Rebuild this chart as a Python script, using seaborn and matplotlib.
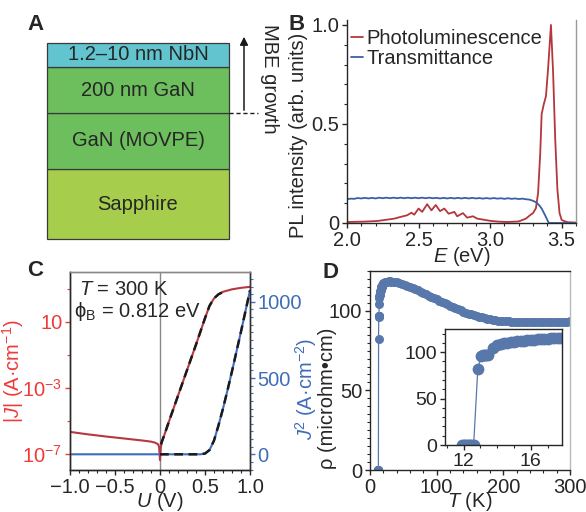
import numpy as np
import pandas as pd
import matplotlib
matplotlib.use("Agg")
import matplotlib.pyplot as plt
import seaborn as sns
from matplotlib.ticker import FixedLocator, MultipleLocator, NullFormatter, FixedFormatter

# ---------------- data ----------------
# Panel A: layer stack (bottom to top)
layer_names = ["Sapphire", "GaN (MOVPE)", "200 nm GaN", "1.2\u201310 nm NbN"]
layer_thick = [70, 56, 46, 24]
layer_colors = ["#A6CE4C", "#6DBE5C", "#6DBE5C", "#62C4CF"]

# Panel B: photoluminescence & transmittance
pl_E = [2.00, 2.12, 2.21, 2.28, 2.33, 2.37, 2.42, 2.45, 2.47, 2.50, 2.525, 2.56, 2.59, 2.62,
        2.65, 2.68, 2.71, 2.75, 2.77, 2.81, 2.84, 2.88, 2.91, 2.96, 3.00, 3.06, 3.12, 3.20,
        3.25, 3.28, 3.30, 3.32, 3.335, 3.35, 3.36, 3.375, 3.39, 3.405, 3.425, 3.44, 3.455,
        3.47, 3.485, 3.50, 3.54, 3.60]
pl_I = [0.005, 0.007, 0.010, 0.017, 0.022, 0.030, 0.039, 0.052, 0.042, 0.073, 0.056, 0.095,
        0.064, 0.091, 0.060, 0.073, 0.047, 0.056, 0.034, 0.050, 0.027, 0.034, 0.022, 0.016,
        0.011, 0.007, 0.005, 0.008, 0.022, 0.040, 0.050, 0.075, 0.150, 0.350, 0.550, 0.600,
        0.640, 0.780, 1.000, 0.760, 0.420, 0.170, 0.050, 0.015, 0.004, 0.002]
tr_E = [2.000, 2.025, 2.050, 2.075, 2.100, 2.125, 2.150, 2.175, 2.200, 2.225,
        2.250, 2.275, 2.300, 2.325, 2.350, 2.375, 2.400, 2.425, 2.450, 2.475,
        2.500, 2.525, 2.550, 2.575, 2.600, 2.625, 2.650, 2.675, 2.700, 2.725,
        2.750, 2.775, 2.800, 2.825, 2.850, 2.875, 2.900, 2.925, 2.950, 2.975,
        3.000, 3.025, 3.050, 3.075, 3.100, 3.125, 3.150, 3.175, 3.200, 3.225,
        3.250, 3.275, 3.300, 3.320, 3.340, 3.360, 3.380, 3.400, 3.410, 3.450,
        3.500, 3.600]
tr_T = [0.120, 0.123, 0.122, 0.126, 0.124, 0.127, 0.124, 0.127, 0.124, 0.128,
        0.125, 0.128, 0.125, 0.128, 0.125, 0.128, 0.125, 0.128, 0.125, 0.128,
        0.125, 0.128, 0.125, 0.128, 0.125, 0.127, 0.124, 0.127, 0.124, 0.127,
        0.124, 0.127, 0.124, 0.127, 0.124, 0.127, 0.124, 0.126, 0.123, 0.126,
        0.123, 0.126, 0.123, 0.125, 0.122, 0.125, 0.122, 0.124, 0.121, 0.123,
        0.120, 0.118, 0.112, 0.105, 0.092, 0.073, 0.045, 0.015, 0.000, 0.000,
        0.000, 0.000]

# Panel C: current-voltage
c_U = [-1.0, -0.8, -0.6, -0.4, -0.2, -0.1, -0.05, -0.02, -0.01, 0.0, 0.01, 0.02, 0.05,
       0.1, 0.2, 0.3, 0.4, 0.45, 0.5, 0.55, 0.6, 0.65, 0.7, 0.8, 0.9, 1.0]
c_log10_J = [-5.69, -5.84, -5.97, -6.09, -6.21, -6.28, -6.35, -6.45, -6.60, -7.40, -6.60,
             -6.30, -5.85, -5.05, -3.50, -1.95, -0.40, 0.40, 1.20, 1.95, 2.40, 2.65, 2.80,
             2.95, 3.04, 3.10]
c_fitJ_U = [0.01, 0.05, 0.1, 0.2, 0.3, 0.4, 0.45, 0.5, 0.55, 0.6, 0.65, 0.72]
c_fit_log10_J = [-6.45, -5.85, -5.05, -3.50, -1.95, -0.40, 0.40, 1.20, 1.95, 2.40, 2.65, 2.84]
c_U2 = [-1.0, 0.0, 0.40, 0.45, 0.50, 0.55, 0.60, 0.65, 0.70, 0.75, 0.80, 0.85, 0.90, 0.95, 1.0]
c_J2 = [0, 0, 0, 0, 5, 28, 90, 190, 300, 420, 545, 675, 805, 940, 1075]
c_fitJ2_U = [0.0, 0.40, 0.45, 0.50, 0.55, 0.60, 0.65, 0.70, 0.75, 0.80, 0.85, 0.90, 0.95, 1.0]
c_fitJ2 = [0, 0, 0, 5, 28, 90, 190, 300, 420, 545, 675, 805, 940, 1075]
c_ytick_vals = [1e1, 1e-3, 1e-7]
c_ytick_labels = ["10", "10$^{-3}$", "10$^{-7}$"]

# Panel D: resistivity vs temperature
d_T = [11.9, 12.0, 12.1, 12.2, 12.3, 12.4, 12.5, 12.6, 12.85, 13.05, 13.15, 13.25, 13.35, 13.45,
       13.75, 14.0, 14.2, 14.4, 14.6, 14.8, 15.0, 15.2, 15.4, 15.6, 15.8, 16.0, 16.2, 16.4,
       16.6, 16.8, 17.0, 17.2, 17.4, 17.6, 17.8, 18.0, 18.5, 19, 20, 21, 22, 24, 26, 28, 30,
       32, 36, 40, 44, 48, 52, 56, 60, 64, 68, 72, 76, 80, 84, 88, 92, 96, 100, 104, 108,
       112, 116, 120, 124, 128, 132, 136, 140, 144, 148, 152, 156, 160, 164, 168, 172, 176,
       180, 184, 188, 192, 196, 200, 204, 208, 212, 216, 220, 224, 228, 232, 236, 240, 244,
       248, 252, 256, 260, 264, 268, 272, 276, 280, 284, 288, 292, 296, 300]
d_rho = [0, 0, 0, 0, 0, 0, 0, 0, 82, 96, 96.5, 96.5, 96.5, 97, 104, 108.0, 109.0, 109.7, 110.3,
         110.8, 111.3, 111.7, 112.1, 112.5, 112.9, 113.2, 113.5, 113.8, 114.1, 114.4, 114.7,
         114.9, 115.2, 115.4, 115.6, 115.8, 116.3, 116.7, 117.2, 117.6, 117.9, 118.2, 118.4,
         118.5, 118.5, 118.4, 118.2, 117.9, 117.5, 117.0, 116.4, 115.8, 115.1, 114.4, 113.6,
         112.8, 112.0, 111.2, 110.4, 109.6, 108.8, 108.0, 107.2, 106.4, 105.6, 104.8, 104.0,
         103.2, 102.4, 101.6, 100.9, 100.2, 99.5, 98.9, 98.3, 97.7, 97.2, 96.7, 96.2, 95.8,
         95.4, 95.0, 94.7, 94.4, 94.1, 93.9, 93.7, 93.5, 93.4, 93.3, 93.2, 93.1, 93.0, 93.0,
         93.0, 93.0, 93.0, 93.0, 93.0, 93.0, 93.0, 93.0, 93.0, 93.0, 93.0, 93.1, 93.1, 93.1,
         93.1, 93.2, 93.2, 93.2, 93.3]

# ---------------- style ----------------
sns.set_theme(style="ticks")
plt.rcParams["font.family"] = ["Liberation Sans", "DejaVu Sans"]
plt.rcParams.update({
    "font.size": 14.5,
    "mathtext.fontset": "custom",
    "mathtext.rm": "Liberation Sans",
    "mathtext.it": "Liberation Sans:italic",
    "mathtext.bf": "Liberation Sans:bold",
    "axes.linewidth": 1.0,
    "xtick.major.size": 3.5, "ytick.major.size": 3.5,
    "xtick.minor.size": 2.2, "ytick.minor.size": 2.2,
    "xtick.major.width": 1.0, "ytick.major.width": 1.0,
    "xtick.minor.width": 0.8, "ytick.minor.width": 0.8,
    "xtick.labelsize": 14.5, "ytick.labelsize": 14.5,
    "axes.labelsize": 14.5,
    "xtick.major.pad": 2, "ytick.major.pad": 2,
})

W, H = 586, 512
fig = plt.figure(figsize=(W / 100, H / 100), dpi=100)


def pax(l, t, r, b):
    return fig.add_axes([l / W, 1 - b / H, (r - l) / W, (b - t) / H])


RED_LINE = "#B5393F"
RED_TXT = "#EE3A3A"
BLUE_LINE = "#3D6CC0"
BLUE_TXT = "#3F6DB8"
PL_RED = "#B5363C"
TR_BLUE = "#3B5FA6"
D_BLUE = "#5878AC"

# ---------------- Panel A ----------------
axA = pax(0, 0, 290, 250)
axA.set_xlim(0, 290)
axA.set_ylim(250, 0)
axA.axis("off")
base = 239
tops = base - np.cumsum(layer_thick)
axA.bar(x=[138] * 4, height=layer_thick, bottom=tops, width=182, color=layer_colors,
        edgecolor="#3a3a3a", linewidth=0.9)
for name, top, h in zip(layer_names, tops, layer_thick):
    axA.text(138, top + h / 2, name, ha="center", va="center", fontsize=14.5)
axA.annotate("", xy=(244, 34), xytext=(244, 113),
             arrowprops=dict(arrowstyle="-|>", color="k", lw=1.1, mutation_scale=12))
axA.plot([229, 258], [113, 113], color="k", lw=1.0, ls=(0, (3, 2)))
axA.text(270, 79, "MBE growth", rotation=-90, ha="center", va="center", fontsize=14.5)
fig.text(35 / W, 1 - 24 / H, "A", fontsize=16, fontweight="bold", ha="center", va="center")

# ---------------- Panel B ----------------
axB = pax(347, 20, 576, 223)
sns.lineplot(x=pl_E, y=pl_I, ax=axB, color=PL_RED, lw=1.3, sort=False, estimator=None,
             label="Photoluminescence")
sns.lineplot(x=tr_E, y=tr_T, ax=axB, color=TR_BLUE, lw=1.3, sort=False, estimator=None,
             label="Transmittance")
axB.set_xlim(2.0, 3.6)
axB.set_ylim(0, 1.025)
axB.set_xticks([2.0, 2.5, 3.0, 3.5])
axB.set_xticklabels(["2.0", "2.5", "3.0", "3.5"])
axB.xaxis.set_minor_locator(MultipleLocator(0.1))
axB.set_yticks([0, 0.5, 1.0])
axB.set_yticklabels(["0", "0.5", "1.0"])
axB.yaxis.set_minor_locator(MultipleLocator(0.1))
axB.spines["top"].set_visible(False)
axB.spines["right"].set_color("#999999")
axB.set_xlabel("$\\it{E}$ (eV)", labelpad=-3.0)
axB.set_ylabel("PL intensity (arb. units)")
axB.yaxis.set_label_coords(-0.17, 0.43)
axB.legend(loc="upper left", bbox_to_anchor=(0.0, 0.975), frameon=False, handlelength=0.6,
           handletextpad=0.15, borderaxespad=0.1, borderpad=0.1, labelspacing=0.05,
           fontsize=14.5)
fig.text(297 / W, 1 - 24 / H, "B", fontsize=16, fontweight="bold", ha="center", va="center")

# ---------------- Panel C ----------------
axC = pax(70, 272, 250, 470)
axC.set_yscale("log")
sns.lineplot(x=c_U, y=np.power(10.0, c_log10_J), ax=axC, color=RED_LINE, lw=1.5, sort=False,
             estimator=None)
sns.lineplot(x=c_fitJ_U, y=np.power(10.0, c_fit_log10_J), ax=axC, color="k", lw=1.8,
             sort=False, estimator=None, linestyle=(0, (3.5, 2.2)))
axC.axvline(0, color="#888888", lw=1.0, zorder=0)
axC.set_xlim(-1, 1)
axC.set_ylim(1e-8, 1e4)
axC.yaxis.set_major_locator(FixedLocator(c_ytick_vals))
axC.yaxis.set_major_formatter(FixedFormatter(c_ytick_labels))
axC.yaxis.set_minor_locator(FixedLocator([1e3, 1e-1, 1e-5]))
axC.yaxis.set_minor_formatter(NullFormatter())
axC.tick_params(axis="y", which="both", colors=RED_TXT, labelcolor=RED_TXT)
axC.set_xticks([-1, -0.5, 0, 0.5, 1])
axC.set_xticklabels(["\u22121.0", "\u22120.5", "0", "0.5", "1.0"])
axC.xaxis.set_minor_locator(MultipleLocator(0.1))
axC.spines["top"].set_color("#888888")
axC.set_xlabel("$\\it{U}$ (V)", labelpad=-4.5)
axC.set_ylabel("|$\\it{J}$| (A\u00b7cm$^{\u22121}$)", color=RED_TXT)
axC.yaxis.set_label_coords(-0.245, 0.5)

axC2 = axC.twinx()
sns.lineplot(x=c_U2, y=c_J2, ax=axC2, color=BLUE_LINE, lw=1.5, sort=False, estimator=None)
sns.lineplot(x=c_fitJ2_U, y=c_fitJ2, ax=axC2, color="k", lw=1.8, sort=False, estimator=None,
             linestyle=(0, (3.5, 2.2)))
axC2.set_ylim(-103, 1196)
axC2.set_yticks([0, 500, 1000])
axC2.yaxis.set_minor_locator(MultipleLocator(50))
axC2.tick_params(axis="y", which="both", colors=BLUE_TXT, labelcolor=BLUE_TXT)
axC2.spines["top"].set_color("#888888")
axC2.spines["right"].set_color("#333333")
axC2.set_ylabel("$\\it{J}$$^{2}$ (A\u00b7cm$^{\u22122}$)", color=BLUE_TXT)
axC2.yaxis.set_label_coords(1.24, 0.41)
axC.text(0.05, 0.91, "$\\it{T}$ = 300 K", transform=axC.transAxes, fontsize=14.5,
         ha="left", va="center")
axC.text(0.025, 0.80, "\u03d5$_\\mathregular{B}$ = 0.812 eV", transform=axC.transAxes,
         fontsize=14.5, ha="left", va="center")
fig.text(35 / W, 1 - 270 / H, "C", fontsize=16, fontweight="bold", ha="center", va="center")

# ---------------- Panel D ----------------
axD = pax(370, 271, 570, 470)
sns.lineplot(x=d_T, y=d_rho, ax=axD, color=D_BLUE, lw=0.9, marker="o", markersize=6.5,
             markeredgewidth=0, sort=False, estimator=None)
axD.set_xlim(0, 300)
axD.set_ylim(0, 125)
axD.set_xticks([0, 100, 200, 300])
axD.xaxis.set_minor_locator(MultipleLocator(20))
axD.set_yticks([0, 50, 100])
axD.yaxis.set_minor_locator(MultipleLocator(5))
axD.spines["right"].set_color("#bbbbbb")
axD.set_xlabel("$\\it{T}$ (K)", labelpad=-4.5)
axD.set_ylabel("\u03c1 (microhm\u2022cm)")
axD.yaxis.set_label_coords(-0.165, 0.36)
fig.text(330 / W, 1 - 272 / H, "D", fontsize=16, fontweight="bold", ha="center", va="center")

axI = pax(445, 329, 562, 445)
sns.lineplot(x=d_T, y=d_rho, ax=axI, color=D_BLUE, lw=0.9, marker="o", markersize=8.5,
             markeredgewidth=0, sort=False, estimator=None)
axI.set_xlim(10.9, 17.85)
axI.set_ylim(0, 125)
axI.set_xticks([12, 16])
axI.xaxis.set_minor_locator(MultipleLocator(1))
axI.set_yticks([0, 50, 100])
axI.yaxis.set_minor_locator(MultipleLocator(10))
axI.tick_params(labelsize=14)
axI.set_xlabel("")
axI.set_ylabel("")

for ax in (axB, axC, axC2, axD):
    for sp in ax.spines.values():
        sp.set_linewidth(1.0)

fig.savefig("out.png", dpi=100)
